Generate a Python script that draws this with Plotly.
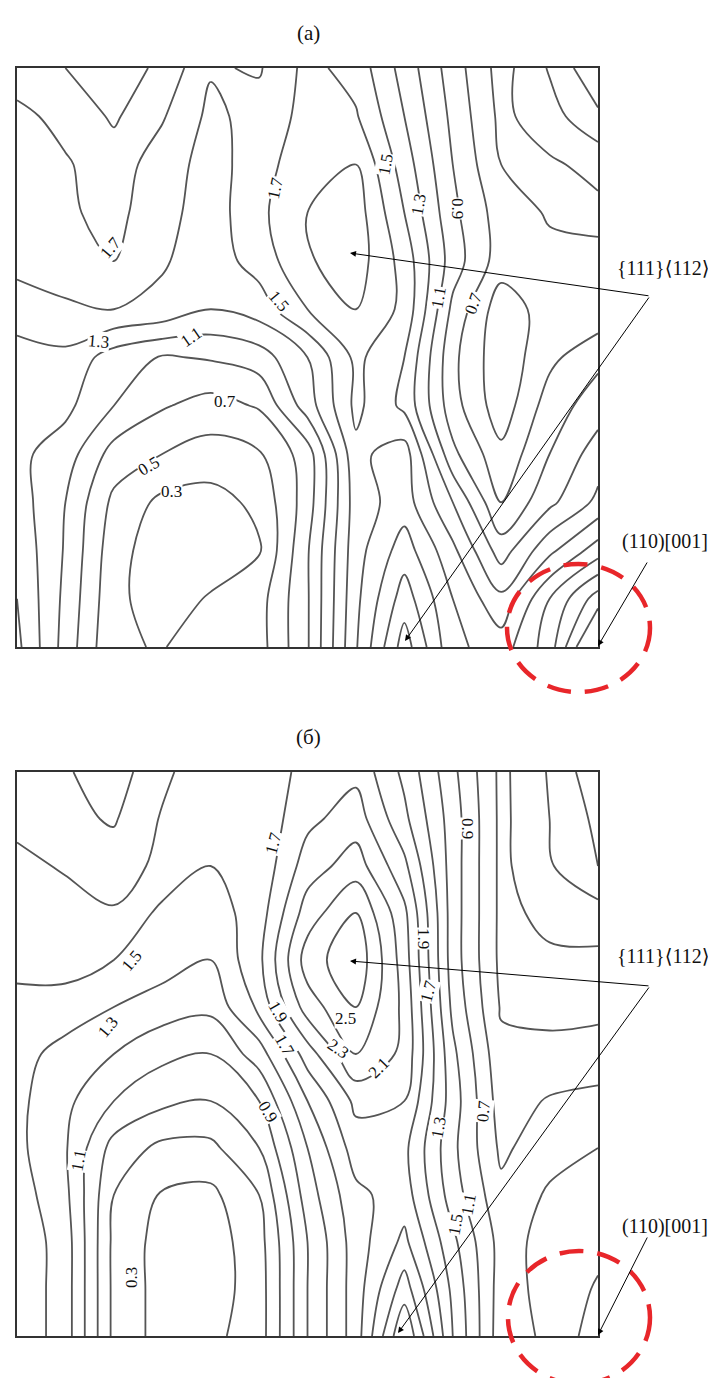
import plotly.graph_objects as go

W, H = 716, 1378

# grid coordinates (degrees) of the ODF section
PHI1 = [0, 7.5, 15, 22.5, 30, 37.5, 45, 52.5, 60, 67.5, 75, 82.5, 90]
PHI = [0, 7.5, 15, 22.5, 30, 37.5, 45, 52.5, 60, 67.5, 75, 82.5, 90]

# section (а) intensities, rows = PHI (top to bottom), cols = PHI1
Z_A = [
    [1.80, 1.90, 2.02, 1.85, 1.52, 1.48, 1.76, 1.62, 1.22, 0.80, 0.42, 0.72, 1.08],
    [1.65, 1.76, 1.93, 1.72, 1.45, 1.58, 1.76, 1.72, 1.30, 0.85, 0.45, 0.62, 0.86],
    [1.60, 1.68, 1.80, 1.60, 1.42, 1.60, 1.85, 1.90, 1.40, 0.90, 0.50, 0.47, 0.56],
    [1.60, 1.67, 1.76, 1.57, 1.40, 1.65, 1.90, 2.00, 1.50, 0.95, 0.60, 0.48, 0.45],
    [1.55, 1.60, 1.70, 1.52, 1.40, 1.58, 1.88, 2.00, 1.62, 1.00, 0.60, 0.55, 0.55],
    [1.42, 1.47, 1.50, 1.45, 1.30, 1.40, 1.70, 1.90, 1.65, 0.85, 0.38, 0.60, 0.55],
    [1.20, 1.25, 1.00, 0.88, 0.92, 1.00, 1.30, 1.75, 1.50, 0.75, 0.36, 0.65, 0.85],
    [1.20, 1.15, 0.90, 0.72, 0.62, 0.72, 1.20, 1.75, 1.45, 0.78, 0.38, 0.80, 1.00],
    [1.15, 1.00, 0.62, 0.50, 0.42, 0.48, 0.80, 1.65, 1.80, 0.95, 0.55, 0.90, 1.20],
    [1.20, 0.90, 0.45, 0.25, 0.22, 0.35, 0.80, 1.60, 1.80, 1.30, 0.70, 1.05, 1.35],
    [1.25, 0.88, 0.38, 0.18, 0.18, 0.28, 0.88, 1.62, 2.00, 1.55, 1.00, 1.45, 1.80],
    [1.30, 0.85, 0.35, 0.20, 0.32, 0.42, 0.88, 1.65, 2.20, 1.70, 1.35, 1.90, 2.40],
    [1.35, 0.82, 0.32, 0.29, 0.40, 0.42, 0.88, 1.68, 2.40, 1.75, 1.60, 2.00, 2.90],
]

# section (б) intensities
Z_B = [
    [1.80, 1.88, 2.00, 1.75, 1.55, 1.50, 1.80, 1.85, 1.45, 0.95, 0.45, 0.72, 1.05],
    [1.75, 1.85, 1.92, 1.68, 1.55, 1.55, 1.85, 2.00, 1.55, 1.00, 0.45, 0.70, 0.95],
    [1.65, 1.72, 1.80, 1.65, 1.50, 1.55, 2.00, 2.20, 1.75, 1.00, 0.45, 0.68, 0.90],
    [1.60, 1.62, 1.68, 1.45, 1.40, 1.60, 2.20, 2.50, 1.95, 1.00, 0.45, 0.55, 0.62],
    [1.55, 1.55, 1.50, 1.40, 1.30, 1.65, 2.40, 2.65, 2.00, 1.00, 0.45, 0.47, 0.45],
    [1.45, 1.45, 1.30, 1.20, 1.15, 1.55, 2.20, 2.50, 2.05, 1.05, 0.48, 0.45, 0.44],
    [1.40, 1.20, 1.10, 0.95, 0.90, 1.20, 1.80, 2.30, 2.05, 1.15, 0.55, 0.55, 0.60],
    [1.35, 1.15, 0.90, 0.75, 0.70, 0.90, 1.50, 1.95, 1.90, 1.20, 0.60, 0.72, 0.75],
    [1.35, 1.12, 0.62, 0.45, 0.45, 0.70, 1.30, 1.80, 1.75, 1.15, 0.66, 0.82, 0.90],
    [1.40, 1.15, 0.50, 0.28, 0.25, 0.50, 1.20, 1.65, 1.80, 1.20, 0.75, 0.93, 1.00],
    [1.45, 1.20, 0.45, 0.22, 0.20, 0.42, 1.10, 1.60, 1.95, 1.35, 0.82, 0.97, 1.05],
    [1.45, 1.20, 0.45, 0.22, 0.20, 0.40, 1.10, 1.60, 2.20, 1.45, 0.80, 0.98, 1.12],
    [1.45, 1.20, 0.45, 0.22, 0.25, 0.40, 1.10, 1.60, 2.50, 1.50, 0.78, 0.95, 1.20],
]

LEVEL_START, LEVEL_END, LEVEL_STEP = 0.3, 2.5, 0.2

# contour labels: (text, x px, y px, angle)
LABELS_A = [
    ("1.7", 103, 240, -50), ("1.7", 267, 180, -78), ("1.5", 270, 293, 50),
    ("1.3", 90, 333, 5), ("1.1", 183, 330, -35), ("1.5", 378, 157, -80),
    ("1.3", 410, 197, -80), ("0.9", 450, 200, 90), ("1.1", 430, 290, -80),
    ("0.7", 465, 295, -70), ("0.7", 217, 393, 0), ("0.5", 140, 458, -30),
    ("0.3", 163, 483, 0),
]
LABELS_B = [
    ("1.7", 265, 835, -75), ("1.5", 123, 953, -50), ("1.9", 270, 1003, 60),
    ("1.9", 415, 930, 90), ("1.7", 420, 983, -75), ("0.9", 460, 820, 90),
    ("2.5", 337, 1010, 0), ("1.3", 100, 1020, -50), ("1.7", 277, 1037, 60),
    ("0.9", 260, 1103, 60), ("1.1", 70, 1153, -80), ("0.3", 123, 1270, -90),
    ("2.3", 330, 1040, 35), ("2.1", 370, 1060, -45), ("1.3", 430, 1120, -80),
    ("0.7", 475, 1103, -85), ("1.1", 460, 1197, -80), ("1.5", 447, 1217, -80),
]

PANELS = [
    # (z, x-axis id, y-axis id, box px: x0, x1, y0, y1, caption)
    (Z_A, "x", "y", (9, 590, 60, 639), "(а)", LABELS_A),
    (Z_B, "x2", "y2", (9, 590, 764, 1328), "(б)", LABELS_B),
]


def px(x, y):
    return x / W, 1 - y / H


fig = go.Figure()
annotations = []
shapes = []
FONT = "Liberation Serif, Times New Roman, DejaVu Serif, serif"


def text_ann(t, x, y, size, ang=0, bg=None):
    qx, qy = px(x, y)
    d = dict(text=t, x=qx, y=qy, xref="paper", yref="paper", xanchor="center",
             yanchor="middle", showarrow=False, textangle=ang,
             font=dict(family=FONT, size=size, color="#111"))
    if bg:
        d.update(bgcolor=bg, borderpad=0)
    return d


for z, xa, ya, (x0, x1, y0, y1), cap, labels in PANELS:
    fig.add_trace(go.Contour(
        x=PHI1, y=PHI, z=z, xaxis=xa, yaxis=ya,
        contours=dict(start=LEVEL_START, end=LEVEL_END, size=LEVEL_STEP,
                      coloring="none", showlabels=False),
        line=dict(color="#555555", width=1.8, smoothing=1.0),
        showscale=False, hoverinfo="skip",
    ))
    ax_name = "xaxis" if xa == "x" else "xaxis2"
    ay_name = "yaxis" if ya == "y" else "yaxis2"
    common = dict(showgrid=False, zeroline=False, showticklabels=False, ticks="",
                  showline=True, mirror=True, linecolor="#333333", linewidth=1.5)
    fig.update_layout(**{
        ax_name: dict(domain=[x0 / W, x1 / W], range=[0, 90], anchor=ya, **common),
        ay_name: dict(domain=[1 - y1 / H, 1 - y0 / H], range=[90, 0], anchor=xa, **common),
    })
    annotations.append(text_ann(cap, 300, y0 - 35, 21))
    for t, lx, ly, ang in labels:
        annotations.append(text_ann(t, lx, ly, 17, ang, bg="white"))

# callouts: label text, label centre, junction, arrow tips
CALLOUTS = [
    ("{111}⟨112⟩", (655, 260), (642, 288), [(342, 245), (397, 633)]),
    ("{111}⟨112⟩", (655, 948), (642, 978), [(342, 953), (390, 1325)]),
    ("(110)[001]", (657, 533), (640, 553), [(590, 638)]),
    ("(110)[001]", (657, 1218), (640, 1228), [(590, 1327)]),
]
for text, (tx, ty), (jx, jy), tips in CALLOUTS:
    annotations.append(text_ann(text, tx, ty, 20))
    for (hx, hy) in tips:
        qx, qy = px(hx, hy)
        annotations.append(dict(text="", x=qx, y=qy, xref="paper", yref="paper",
                                showarrow=True, arrowhead=2, arrowsize=1.2, arrowwidth=1,
                                arrowcolor="black", ax=jx - hx, ay=jy - hy, standoff=0))

# dashed red circles around the Goss position
for (cx0, cy0, cx1, cy1) in [(499, 556, 642, 684), (500, 1243, 642, 1376)]:
    a0, b0 = px(cx0, cy0)
    a1, b1 = px(cx1, cy1)
    shapes.append(dict(type="circle", xref="paper", yref="paper",
                       x0=a0, x1=a1, y0=b1, y1=b0,
                       line=dict(color="#e8262a", width=4.5, dash="24px,14px")))

fig.update_layout(width=W, height=H, margin=dict(l=0, r=0, t=0, b=0),
                  paper_bgcolor="white", plot_bgcolor="white", showlegend=False,
                  annotations=annotations, shapes=shapes)
fig.write_html("out.html")
